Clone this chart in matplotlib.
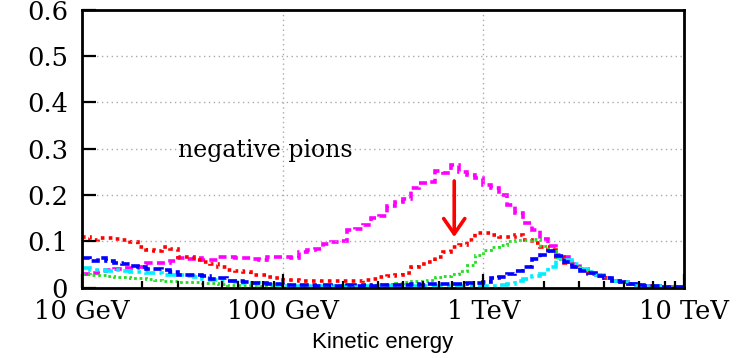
import numpy as np
import matplotlib
matplotlib.use("Agg")
import matplotlib.pyplot as plt
from matplotlib.ticker import FixedLocator, FuncFormatter, LogLocator, NullFormatter

# log-spaced energy bins, 10 GeV .. 10 TeV (values in GeV)
edges = np.logspace(1, 4, 76)

tail = [0.015, 0.011, 0.007, 0.005, 0.004, 0.003, 0.002, 0.001, 0.001]

pi_total = [0.030, 0.031, 0.035, 0.038, 0.040, 0.042, 0.043, 0.045, 0.052, 0.053,
            0.052, 0.057, 0.063, 0.062, 0.064, 0.060, 0.059, 0.065, 0.066, 0.063,
            0.063, 0.061, 0.060, 0.066, 0.066, 0.065, 0.063, 0.077, 0.082, 0.083,
            0.093, 0.098, 0.100, 0.125, 0.127, 0.135, 0.150, 0.154, 0.175, 0.185,
            0.190, 0.214, 0.225, 0.228, 0.251, 0.248, 0.265, 0.250, 0.243, 0.237,
            0.222, 0.215, 0.200, 0.178, 0.160, 0.140, 0.124, 0.105, 0.090, 0.070,
            0.066, 0.050, 0.040, 0.033, 0.026, 0.020] + tail

pi_red = [0.110, 0.102, 0.106, 0.106, 0.104, 0.102, 0.098, 0.087, 0.080, 0.078,
          0.088, 0.083, 0.065, 0.065, 0.060, 0.055, 0.050, 0.044, 0.038, 0.036,
          0.034, 0.028, 0.028, 0.022, 0.020, 0.017, 0.016, 0.015, 0.013, 0.013,
          0.015, 0.015, 0.014, 0.014, 0.015, 0.017, 0.018, 0.022, 0.024, 0.028,
          0.032, 0.044, 0.050, 0.055, 0.066, 0.077, 0.088, 0.092, 0.102, 0.117,
          0.117, 0.113, 0.109, 0.110, 0.113, 0.102, 0.095, 0.088, 0.080, 0.066,
          0.052, 0.045, 0.038, 0.030, 0.025, 0.020] + tail

pi_green = [0.030, 0.028, 0.026, 0.024, 0.022, 0.022, 0.020, 0.020, 0.018, 0.017,
            0.015, 0.014, 0.012, 0.012, 0.011, 0.010, 0.009, 0.008, 0.006, 0.006,
            0.005, 0.005, 0.004, 0.004, 0.003, 0.003, 0.003, 0.003, 0.003, 0.003,
            0.004, 0.004, 0.004, 0.004, 0.004, 0.005, 0.006, 0.008, 0.008, 0.009,
            0.011, 0.013, 0.015, 0.017, 0.022, 0.024, 0.030, 0.036, 0.048, 0.070,
            0.082, 0.087, 0.092, 0.100, 0.102, 0.103, 0.104, 0.090, 0.078, 0.062,
            0.054, 0.045, 0.038, 0.031, 0.025, 0.020] + tail

pi_blue = [0.063, 0.057, 0.063, 0.057, 0.052, 0.050, 0.046, 0.045, 0.040, 0.039,
           0.038, 0.033, 0.028, 0.027, 0.026, 0.025, 0.019, 0.020, 0.014, 0.013,
           0.012, 0.009, 0.009, 0.008, 0.008, 0.006, 0.006, 0.005, 0.005, 0.004,
           0.005, 0.004, 0.004, 0.005, 0.004, 0.005, 0.004, 0.005, 0.006, 0.005,
           0.006, 0.007, 0.006, 0.007, 0.008, 0.007, 0.008, 0.008, 0.010, 0.009,
           0.012, 0.020, 0.022, 0.030, 0.036, 0.045, 0.062, 0.070, 0.078, 0.068,
           0.056, 0.044, 0.036, 0.031, 0.024, 0.020] + tail

pi_cyan = [0.042, 0.038, 0.037, 0.036, 0.037, 0.035, 0.033, 0.033, 0.032, 0.031,
           0.028, 0.027, 0.026, 0.025, 0.022, 0.019, 0.017, 0.015, 0.014, 0.011,
           0.010, 0.009, 0.008, 0.005, 0.005, 0.004, 0.003, 0.003, 0.003, 0.003,
           0.003, 0.003, 0.003, 0.003, 0.003, 0.003, 0.003, 0.003, 0.003, 0.003,
           0.003, 0.003, 0.003, 0.003, 0.003, 0.003, 0.003, 0.003, 0.003, 0.003,
           0.003, 0.004, 0.006, 0.008, 0.013, 0.019, 0.025, 0.030, 0.045, 0.064,
           0.060, 0.050, 0.040, 0.033, 0.026, 0.020] + tail

series = [
    (pi_total, "#ff00ff", (2.2, 1.2), 2.6),
    (pi_red, "#ff0000", (1.0, 1.2), 2.6),
    (pi_green, "#22dd22", (1.0, 1.0), 2.0),
    (pi_cyan, "#00eeff", (3.0, 1.2, 1.0, 1.2), 2.6),
    (pi_blue, "#0000ff", (2.5, 1.0), 2.6),
]

tick_pos = [10, 100, 1000, 10000]
tick_txt = ["10 GeV", "100 GeV", "1 TeV", "10 TeV"]

fig = plt.figure(figsize=(7.37, 3.58), dpi=100)
ax = fig.add_axes([0.1113, 0.1969, 0.8168, 0.7765])

for vals, col, dash, lw in series:
    st = ax.stairs(vals, edges, baseline=None, color=col, linewidth=lw)
    st.set_linestyle((0, dash))

ax.set_xscale("log")
ax.set_xlim(10, 10000)
ax.set_ylim(0, 0.6)

ax.xaxis.set_major_locator(FixedLocator(tick_pos))
ax.xaxis.set_major_formatter(FuncFormatter(lambda v, p: tick_txt[tick_pos.index(round(v))] if round(v) in tick_pos else ""))
ax.xaxis.set_minor_locator(LogLocator(base=10, subs=np.arange(2, 10)))
ax.xaxis.set_minor_formatter(NullFormatter())
ax.set_yticks(np.arange(0, 0.61, 0.1))
ax.yaxis.set_major_formatter(FuncFormatter(lambda v, p: "0" if abs(v) < 1e-9 else f"{v:.1f}"))

ax.grid(True, which="major", color="#aaaaaa", linestyle=(0, (1, 2.5)), linewidth=1)
ax.tick_params(which="both", direction="in", top=False, right=False, width=1.6)
ax.tick_params(which="major", length=10)
ax.tick_params(which="minor", length=5)
ax.tick_params(axis="x", pad=8)
ax.tick_params(axis="y", pad=10)
for lab in ax.get_xticklabels() + ax.get_yticklabels():
    lab.set_fontfamily("DejaVu Serif")
    lab.set_fontsize(18.5)
for sp in ax.spines.values():
    sp.set_linewidth(2)

ax.text(30.1, 0.282, "negative pions", family="DejaVu Serif", fontsize=17,
        ha="left", va="baseline")
ax.annotate("", xy=(716, 0.103), xytext=(716, 0.236),
            arrowprops=dict(arrowstyle="->,head_length=0.55,head_width=0.38",
                            color="red", lw=2.6, mutation_scale=20))

ax.set_xlabel("Kinetic energy", family="Liberation Sans", fontsize=16, labelpad=6)

fig.savefig("out.png", dpi=100)
